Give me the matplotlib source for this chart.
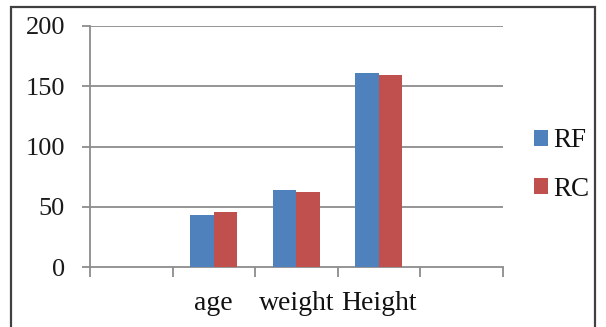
import numpy as np
import matplotlib
matplotlib.use("Agg")
import matplotlib.pyplot as plt
from matplotlib.patches import Rectangle

categories = ["", "age", "weight", "Height", ""]
series_names = ["RF", "RC"]
rf_values = [np.nan, 43, 64, 161, np.nan]
rc_values = [np.nan, 46, 62, 159, np.nan]
y_ticks = [0, 50, 100, 150, 200]

blue = "#4F81BD"
red = "#C0504D"
grid_c = "#8C8C8C"

plt.rcParams['font.family'] = ['Liberation Serif', 'DejaVu Serif']

fig = plt.figure(figsize=(6.06, 3.27), dpi=100)
ax = fig.add_axes([90/606, 1-267/327, (502.5-90)/606, (267-26)/327])

x = np.arange(len(categories))
w = 1/3.5
ax.bar(x - w/2, rf_values, width=w, color=blue, label=series_names[0], zorder=3)
ax.bar(x + w/2, rc_values, width=w, color=red, label=series_names[1], zorder=3)

ax.set_xlim(-0.5, len(categories) - 0.5)
ax.set_ylim(0, 200)
ax.set_yticks(y_ticks)
ax.set_yticklabels([str(v) for v in y_ticks], fontsize=19, color="#1a1a1a")
for y in y_ticks[1:]:
    ax.axhline(y, color=grid_c, lw=1.3, zorder=1)

ax.set_xticks(x)
ax.set_xticklabels(categories, fontsize=20, color="#111111")
ax.set_xticks(np.arange(len(categories) + 1) - 0.5, minor=True)
ax.tick_params(axis='x', which='major', length=0, pad=17)
ax.tick_params(axis='x', which='minor', length=7, width=1.3, color=grid_c, direction='out')
ax.tick_params(axis='y', length=6, width=1.3, color=grid_c, direction='out', pad=12)

for s in ['top', 'right']:
    ax.spines[s].set_visible(False)
ax.spines['left'].set_color(grid_c)
ax.spines['left'].set_linewidth(1.3)
ax.spines['bottom'].set_color(grid_c)
ax.spines['bottom'].set_linewidth(1.3)
ax.spines['left'].set_zorder(4)

leg = ax.legend(loc='center left', bbox_to_anchor=(520/606, 1-165/327), bbox_transform=fig.transFigure,
                frameon=False, fontsize=19.5, handlelength=0.52, handleheight=0.52,
                handletextpad=0.2, labelspacing=0.85, borderpad=0)
for t in leg.get_texts():
    t.set_color("#111111")

fig.patches.append(Rectangle((11/606, -0.05), (595-11)/606, 1.05 - 7/327, transform=fig.transFigure,
                             fill=False, edgecolor="#404040", lw=1.6, clip_on=False))

fig.savefig("out.png", dpi=100)
